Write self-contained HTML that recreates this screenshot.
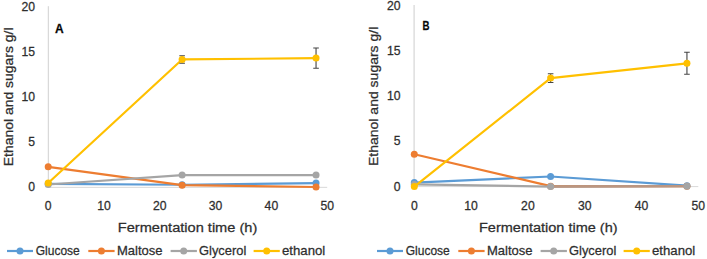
<!DOCTYPE html>
<html><head><meta charset="utf-8"><style>
html,body{margin:0;padding:0;background:#fff;}
svg{display:block;}
text{font-family:"Liberation Sans",sans-serif;fill:#2e2e2e;stroke:#2e2e2e;stroke-width:0.26px;}
.tk{font-size:12.2px;}
.ttl{font-size:13.7px;}
.lg{font-size:13.2px;}
.let{font-size:12px;font-weight:bold;fill:#000;}
</style></head><body>
<svg width="707" height="259" viewBox="0 0 707 259">
<rect width="707" height="259" fill="#fff"/>
<line x1="48.4" y1="6.20" x2="48.4" y2="187.00" stroke="#D9D9D9" stroke-width="1.3"/>
<line x1="48.20" y1="187.35" x2="327.20" y2="187.35" stroke="#D9D9D9" stroke-width="1"/>
<text x="35" y="191.00" text-anchor="end" class="tk">0</text>
<text x="35" y="146.00" text-anchor="end" class="tk">5</text>
<text x="35" y="101.00" text-anchor="end" class="tk">10</text>
<text x="35" y="56.00" text-anchor="end" class="tk">15</text>
<text x="35" y="11.00" text-anchor="end" class="tk">20</text>
<text x="48.20" y="210" text-anchor="middle" class="tk">0</text>
<text x="104.00" y="210" text-anchor="middle" class="tk">10</text>
<text x="159.80" y="210" text-anchor="middle" class="tk">20</text>
<text x="215.60" y="210" text-anchor="middle" class="tk">30</text>
<text x="271.40" y="210" text-anchor="middle" class="tk">40</text>
<text x="327.20" y="210" text-anchor="middle" class="tk">50</text>
<polyline points="48.20,183.85 182.12,184.75 316.04,183.04" fill="none" stroke="#5B9BD5" stroke-width="2.2" stroke-linejoin="round" stroke-linecap="round"/>
<circle cx="48.20" cy="183.85" r="3.5" fill="#5B9BD5"/>
<circle cx="182.12" cy="184.75" r="3.5" fill="#5B9BD5"/>
<circle cx="316.04" cy="183.04" r="3.5" fill="#5B9BD5"/>
<polyline points="48.20,166.84 182.12,185.20 316.04,187.00" fill="none" stroke="#ED7D31" stroke-width="2.2" stroke-linejoin="round" stroke-linecap="round"/>
<circle cx="48.20" cy="166.84" r="3.5" fill="#ED7D31"/>
<circle cx="182.12" cy="185.20" r="3.5" fill="#ED7D31"/>
<circle cx="316.04" cy="187.00" r="3.5" fill="#ED7D31"/>
<polyline points="48.20,184.48 182.12,175.12 316.04,175.12" fill="none" stroke="#A5A5A5" stroke-width="2.2" stroke-linejoin="round" stroke-linecap="round"/>
<circle cx="48.20" cy="184.48" r="3.5" fill="#A5A5A5"/>
<circle cx="182.12" cy="175.12" r="3.5" fill="#A5A5A5"/>
<circle cx="316.04" cy="175.12" r="3.5" fill="#A5A5A5"/>
<polyline points="48.20,183.04 182.12,59.47 316.04,58.12" fill="none" stroke="#FFC000" stroke-width="2.2" stroke-linejoin="round" stroke-linecap="round"/>
<path d="M182.12 55.69V63.25M179.32 55.69H184.92M179.32 63.25H184.92" stroke="#454545" stroke-width="1.1" fill="none"/>
<path d="M316.04 47.95V68.29M313.24 47.95H318.84M313.24 68.29H318.84" stroke="#454545" stroke-width="1.1" fill="none"/>
<circle cx="48.20" cy="183.04" r="3.5" fill="#FFC000"/>
<circle cx="182.12" cy="59.47" r="3.5" fill="#FFC000"/>
<circle cx="316.04" cy="58.12" r="3.5" fill="#FFC000"/>
<text x="55" y="33.2" class="let">A</text>
<text x="117.8" y="232.4" class="ttl" textLength="139.5" lengthAdjust="spacingAndGlyphs">Fermentation time (h)</text>
<text transform="translate(13.2,166.3) rotate(-90)" x="0" y="0" class="ttl" textLength="138.9" lengthAdjust="spacingAndGlyphs">Ethanol and sugars g/l</text>
<line x1="7.00" y1="251" x2="33.00" y2="251" stroke="#5B9BD5" stroke-width="2.2"/>
<circle cx="20.00" cy="251" r="3.5" fill="#5B9BD5"/>
<text x="35.70" y="255.3" class="lg" textLength="44.1" lengthAdjust="spacingAndGlyphs">Glucose</text>
<line x1="88.30" y1="251" x2="114.60" y2="251" stroke="#ED7D31" stroke-width="2.2"/>
<circle cx="101.40" cy="251" r="3.5" fill="#ED7D31"/>
<text x="117.00" y="255.3" class="lg" textLength="45.6" lengthAdjust="spacingAndGlyphs">Maltose</text>
<line x1="170.60" y1="251" x2="196.90" y2="251" stroke="#A5A5A5" stroke-width="2.2"/>
<circle cx="183.70" cy="251" r="3.5" fill="#A5A5A5"/>
<text x="199.00" y="255.3" class="lg" textLength="47.3" lengthAdjust="spacingAndGlyphs">Glycerol</text>
<line x1="253.60" y1="251" x2="279.80" y2="251" stroke="#FFC000" stroke-width="2.2"/>
<circle cx="266.70" cy="251" r="3.5" fill="#FFC000"/>
<text x="282.00" y="255.3" class="lg" textLength="43.3" lengthAdjust="spacingAndGlyphs">ethanol</text>
<line x1="414.1" y1="5.00" x2="414.1" y2="186.60" stroke="#D9D9D9" stroke-width="1.3"/>
<line x1="414.30" y1="186.60" x2="698.30" y2="186.60" stroke="#D9D9D9" stroke-width="1"/>
<text x="400.5" y="190.60" text-anchor="end" class="tk">0</text>
<text x="400.5" y="145.40" text-anchor="end" class="tk">5</text>
<text x="400.5" y="100.20" text-anchor="end" class="tk">10</text>
<text x="400.5" y="55.00" text-anchor="end" class="tk">15</text>
<text x="400.5" y="9.80" text-anchor="end" class="tk">20</text>
<text x="414.30" y="209.5" text-anchor="middle" class="tk">0</text>
<text x="471.10" y="209.5" text-anchor="middle" class="tk">10</text>
<text x="527.90" y="209.5" text-anchor="middle" class="tk">20</text>
<text x="584.70" y="209.5" text-anchor="middle" class="tk">30</text>
<text x="641.50" y="209.5" text-anchor="middle" class="tk">40</text>
<text x="698.30" y="209.5" text-anchor="middle" class="tk">50</text>
<polyline points="414.30,182.53 550.62,176.48 686.94,185.70" fill="none" stroke="#5B9BD5" stroke-width="2.2" stroke-linejoin="round" stroke-linecap="round"/>
<circle cx="414.30" cy="182.53" r="3.5" fill="#5B9BD5"/>
<circle cx="550.62" cy="176.48" r="3.5" fill="#5B9BD5"/>
<circle cx="686.94" cy="185.70" r="3.5" fill="#5B9BD5"/>
<polyline points="414.30,154.24 550.62,186.15 686.94,186.15" fill="none" stroke="#ED7D31" stroke-width="2.2" stroke-linejoin="round" stroke-linecap="round"/>
<circle cx="414.30" cy="154.24" r="3.5" fill="#ED7D31"/>
<circle cx="550.62" cy="186.15" r="3.5" fill="#ED7D31"/>
<circle cx="686.94" cy="186.15" r="3.5" fill="#ED7D31"/>
<polyline points="414.30,184.43 550.62,186.60 686.94,186.15" fill="none" stroke="#A5A5A5" stroke-width="2.2" stroke-linejoin="round" stroke-linecap="round"/>
<line x1="550.62" y1="186.60" x2="686.94" y2="186.15" stroke="#BC9680" stroke-width="2.2"/>
<circle cx="414.30" cy="184.43" r="3.5" fill="#A5A5A5"/>
<circle cx="550.62" cy="186.60" r="3.5" fill="#A5A5A5"/>
<circle cx="686.94" cy="186.15" r="3.5" fill="#A5A5A5"/>
<polyline points="414.30,186.60 550.62,78.12 686.94,63.29" fill="none" stroke="#FFC000" stroke-width="2.2" stroke-linejoin="round" stroke-linecap="round"/>
<path d="M550.62 73.69V82.55M547.82 73.69H553.42M547.82 82.55H553.42" stroke="#454545" stroke-width="1.1" fill="none"/>
<path d="M686.94 52.27V74.32M684.14 52.27H689.74M684.14 74.32H689.74" stroke="#454545" stroke-width="1.1" fill="none"/>
<circle cx="414.30" cy="186.60" r="3.5" fill="#FFC000"/>
<circle cx="550.62" cy="78.12" r="3.5" fill="#FFC000"/>
<circle cx="686.94" cy="63.29" r="3.5" fill="#FFC000"/>
<text x="422.6" y="30.1" class="let" textLength="7.0" lengthAdjust="spacingAndGlyphs">B</text>
<text x="479.0" y="231.9" class="ttl" textLength="138.6" lengthAdjust="spacingAndGlyphs">Fermentation time (h)</text>
<text transform="translate(377.9,166.0) rotate(-90)" x="0" y="0" class="ttl" textLength="139.3" lengthAdjust="spacingAndGlyphs">Ethanol and sugars g/l</text>
<line x1="377.00" y1="251" x2="403.00" y2="251" stroke="#5B9BD5" stroke-width="2.2"/>
<circle cx="390.00" cy="251" r="3.5" fill="#5B9BD5"/>
<text x="405.70" y="255.3" class="lg" textLength="44.1" lengthAdjust="spacingAndGlyphs">Glucose</text>
<line x1="458.30" y1="251" x2="484.60" y2="251" stroke="#ED7D31" stroke-width="2.2"/>
<circle cx="471.40" cy="251" r="3.5" fill="#ED7D31"/>
<text x="487.00" y="255.3" class="lg" textLength="45.6" lengthAdjust="spacingAndGlyphs">Maltose</text>
<line x1="540.60" y1="251" x2="566.90" y2="251" stroke="#A5A5A5" stroke-width="2.2"/>
<circle cx="553.70" cy="251" r="3.5" fill="#A5A5A5"/>
<text x="569.00" y="255.3" class="lg" textLength="47.3" lengthAdjust="spacingAndGlyphs">Glycerol</text>
<line x1="623.60" y1="251" x2="649.80" y2="251" stroke="#FFC000" stroke-width="2.2"/>
<circle cx="636.70" cy="251" r="3.5" fill="#FFC000"/>
<text x="652.00" y="255.3" class="lg" textLength="43.3" lengthAdjust="spacingAndGlyphs">ethanol</text>
</svg>
</body></html>
